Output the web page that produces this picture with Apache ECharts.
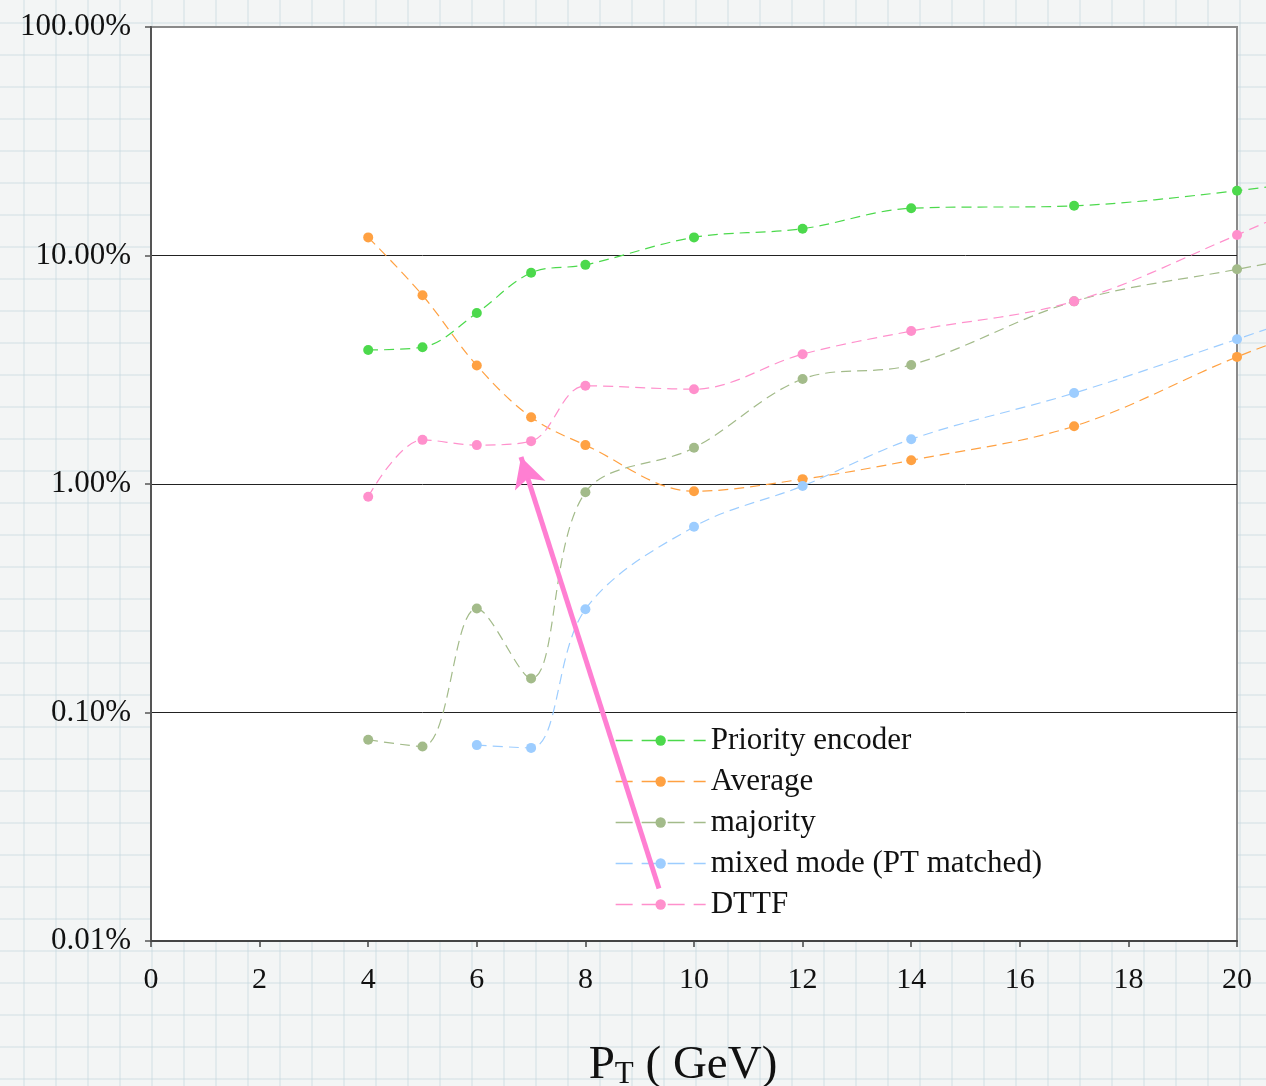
<!DOCTYPE html>
<html>
<head>
<meta charset="utf-8">
<script src="https://cdn.jsdelivr.net/npm/echarts@6/dist/echarts.min.js"></script>
<style>
  html, body { margin: 0; padding: 0; }
  body {
    width: 1266px; height: 1086px; overflow: hidden;
    background-color: #f3f5f5;
    background-image:
      linear-gradient(to right, rgba(195, 215, 222, 0.35) 2px, transparent 2px),
      linear-gradient(to bottom, rgba(195, 215, 222, 0.35) 2px, transparent 2px);
    background-size: 32px 32px;
    background-position: 23px 22px;
  }
  #chart { width: 1266px; height: 1086px; }
</style>
</head>
<body>
<div id="chart"></div>
<script>
// ---- data (percent values) ----
const ptValues = [4, 5, 6, 7, 8, 10, 12, 14, 17, 20, 22];
const priorityEncoder = [3.86, 3.97, 5.6, 8.4, 9.1, 12.0, 13.1, 16.1, 16.5, 19.2, 22.3];
const average = [12.0, 6.7, 3.3, 1.96, 1.48, 0.93, 1.05, 1.27, 1.79, 3.6, 5.4];
const majority = [0.076, 0.071, 0.285, 0.141, 0.92, 1.44, 2.88, 3.32, 6.3, 8.7, 10.6];
const mixedMode = [null, null, 0.072, 0.070, 0.283, 0.65, 0.98, 1.57, 2.5, 4.3, 6.3];
const dttf = [0.88, 1.56, 1.48, 1.54, 2.69, 2.6, 3.7, 4.67, 6.3, 12.3, 20.1];
const seriesNames = ['Priority encoder', 'Average', 'majority', 'mixed mode (PT matched)', 'DTTF'];
const seriesColors = ['#4cd94c', '#ffa142', '#a3bb8a', '#9dcdff', '#ff90cc'];
const xTicks = { min: 0, max: 20, interval: 2 };
const yRange = { min: 0.01, max: 100 };
// arrow annotation: [start, tip] in data coordinates
const arrowStart = [9.355, 0.01698];
const arrowTip = [6.814, 1.313];

const allSeries = [priorityEncoder, average, majority, mixedMode, dttf];
const FONT = '"Liberation Serif", "Times New Roman", serif';

// layout: framed plot area ends at x=20; lines run on past it to the page edge
const W = 1266, GL = 151, GR = 29, GT = 27, GB = 145;
const plotW = W - GL - GR;
const extMax = xTicks.max * (W - GL) / plotW;

const series = allSeries.map((vals, i) => ({
  name: seriesNames[i],
  type: 'line',
  xAxisIndex: 1,
  yAxisIndex: 1,
  smooth: 0.35,
  connectNulls: false,
  symbol: 'circle',
  symbolSize: 10,
  showSymbol: true,
  color: seriesColors[i],
  itemStyle: { color: seriesColors[i] },
  lineStyle: { color: seriesColors[i], width: 1.2, type: [10, 6] },
  emphasis: { disabled: true },
  z: 3,
  data: ptValues.map((x, j) => [x, vals[j]])
}));

series.push({
  name: 'arrow',
  type: 'line',
  xAxisIndex: 1,
  yAxisIndex: 1,
  data: [],
  silent: true,
  markLine: {
    silent: true,
    symbol: ['none', 'arrow'],
    symbolSize: [24, 30],
    label: { show: false },
    lineStyle: { color: '#ff7fd2', width: 5, type: 'solid' },
    emphasis: { disabled: true },
    data: [[{ coord: arrowStart }, { coord: arrowTip }]]
  },
  z: 5
});

const chart = echarts.init(document.getElementById('chart'));
chart.setOption({
  backgroundColor: 'transparent',
  animation: false,
  textStyle: { fontFamily: FONT },
  grid: [
    {
      left: GL, right: GR, top: GT, bottom: GB,
      outerBoundsMode: 'none', containLabel: false,
      show: true, backgroundColor: '#ffffff',
      borderColor: '#8a8a8a', borderWidth: 2
    },
    {
      left: GL, right: 0, top: GT, bottom: GB,
      outerBoundsMode: 'none', containLabel: false,
      show: false
    }
  ],
  legend: {
    data: seriesNames.map((n, i) => ({
      name: n,
      itemStyle: { color: seriesColors[i] },
      lineStyle: { color: seriesColors[i], type: [17, 9], width: 1.3 }
    })),
    orient: 'vertical',
    left: 610,
    top: 720,
    itemWidth: 90,
    itemHeight: 13,
    itemGap: 10,
    textStyle: { fontFamily: FONT, fontSize: 31, color: '#111', lineHeight: 31 }
  },
  xAxis: [
    {
      type: 'value',
      gridIndex: 0,
      min: xTicks.min, max: xTicks.max, interval: xTicks.interval,
      axisLine: { show: true, lineStyle: { color: '#444', width: 2 } },
      axisTick: { show: true, inside: false, length: 6, lineStyle: { color: '#444', width: 1.5 } },
      axisLabel: { fontFamily: FONT, fontSize: 30, color: '#111', margin: 24 },
      splitLine: { show: false },
      name: '{a|P}{b|T}{a| ( GeV)}',
      nameLocation: 'middle',
      nameGap: 100,
      nameTextStyle: {
        padding: [0, 22, 0, 0],
        rich: {
          a: { fontFamily: FONT, fontSize: 47, color: '#111' },
          b: { fontFamily: FONT, fontSize: 31, color: '#111', padding: [18, 0, 0, 0] }
        }
      }
    },
    {
      type: 'value',
      gridIndex: 1,
      min: xTicks.min, max: extMax,
      show: false
    }
  ],
  yAxis: [
    {
      type: 'log',
      gridIndex: 0,
      logBase: 10,
      min: yRange.min, max: yRange.max,
      axisLine: { show: true, lineStyle: { color: '#555', width: 2 } },
      axisTick: { show: true, inside: false, length: 6, lineStyle: { color: '#555', width: 1.5 } },
      axisLabel: {
        fontFamily: FONT, fontSize: 31, color: '#111', margin: 20,
        formatter: v => Number(v).toFixed(2) + '%'
      },
      minorTick: { show: false },
      splitLine: { show: true, showMinLine: false, showMaxLine: false, lineStyle: { color: '#222', width: 1 } }
    },
    {
      type: 'log',
      gridIndex: 1,
      logBase: 10,
      min: yRange.min, max: yRange.max,
      show: false
    }
  ],
  series: series
});
</script>
</body>
</html>
